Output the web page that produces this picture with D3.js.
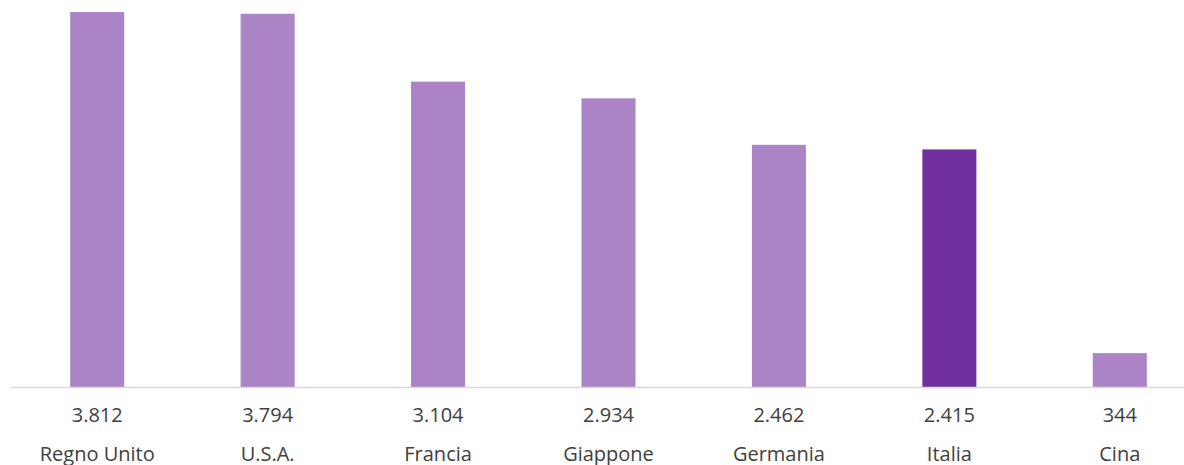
<!DOCTYPE html>
<html>
<head>
<meta charset="utf-8">
<script src="https://cdn.jsdelivr.net/npm/d3@7"></script>
<style>
  html, body { margin: 0; padding: 0; background: #fff; }
  svg { display: block; }
</style>
</head>
<body>
<svg id="chart" width="1184" height="465"></svg>
<script>
// Country names and their values
const categories = ["Regno Unito", "U.S.A.", "Francia", "Giappone", "Germania", "Italia", "Cina"];
const values = [3812, 3794, 3104, 2934, 2462, 2415, 344];
const valueLabels = ["3.812", "3.794", "3.104", "2.934", "2.462", "2.415", "344"];
const highlight = "Italia";

const svg = d3.select("#chart");
const baseY = 387;

const x = d3.scaleBand()
  .domain(categories)
  .range([12, 1205])
  .paddingInner(0.683)
  .paddingOuter(0.3415);

const y = d3.scaleLinear()
  .domain([0, 3812])
  .range([baseY, 12]);

const bars = categories.map((c, i) => ({ c, v: values[i], label: valueLabels[i] }));

// Bars
svg.append("g").selectAll("rect")
  .data(bars)
  .join("rect")
  .attr("x", d => x(d.c))
  .attr("y", d => y(d.v))
  .attr("width", x.bandwidth())
  .attr("height", d => y(0) - y(d.v))
  .attr("fill", d => d.c === highlight ? "#7030a0" : "#ab84c6");

// Baseline
svg.append("line")
  .attr("x1", 11).attr("x2", 1184)
  .attr("y1", baseY + 0.5).attr("y2", baseY + 0.5)
  .attr("stroke", "#d9d9d9")
  .attr("stroke-width", 1.5);

// Value labels
svg.append("g").selectAll("text")
  .data(bars)
  .join("text")
  .attr("x", d => x(d.c) + x.bandwidth() / 2)
  .attr("y", 421.5)
  .attr("text-anchor", "middle")
  .attr("font-family", "'Open Sans', sans-serif")
  .attr("font-size", 20)
  .attr("fill", "#404040")
  .text(d => d.label);

// Category labels
svg.append("g").selectAll("text")
  .data(bars)
  .join("text")
  .attr("x", d => x(d.c) + x.bandwidth() / 2)
  .attr("y", 460.5)
  .attr("text-anchor", "middle")
  .attr("font-family", "'Open Sans', sans-serif")
  .attr("font-size", 20)
  .attr("fill", "#404040")
  .text(d => d.c);
</script>
</body>
</html>
